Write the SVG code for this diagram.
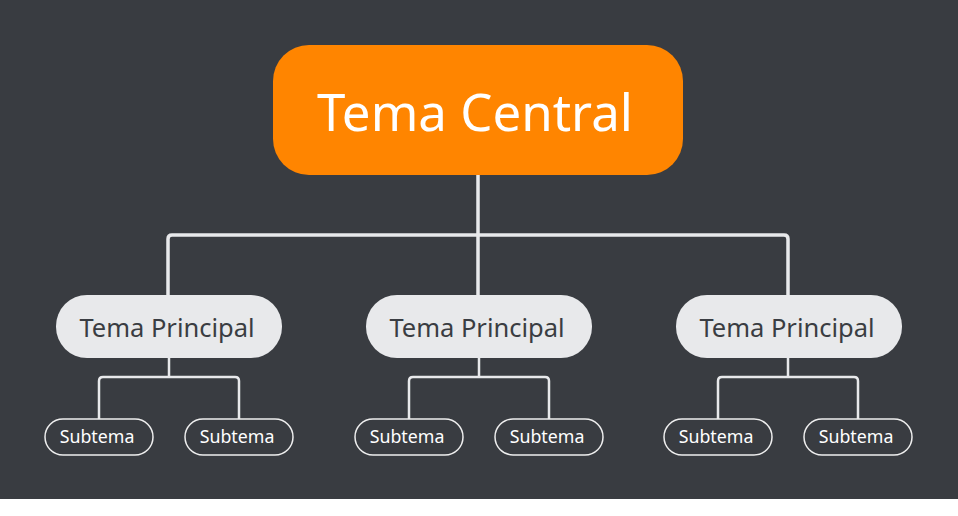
<svg xmlns="http://www.w3.org/2000/svg" width="958" height="516" viewBox="0 0 958 516">
<style>
.bg{fill:#393c41}
.main rect{fill:#e8e9eb}
.main text{fill:#3a3d42;font-family:"Noto Sans","Open Sans",sans-serif;font-size:25.5px;text-anchor:middle}
.sub rect{fill:#393c41;stroke:#eeeeee;stroke-width:1.5}
.sub text{fill:#ffffff;font-family:"Noto Sans","Open Sans",sans-serif;font-size:17.8px;text-anchor:middle}
.conn path{fill:none;stroke:#e8e9eb;stroke-linejoin:round}
.c1{stroke-width:3.5}
.c2{stroke-width:2.5}
</style>
<rect x="0" y="0" width="958" height="516" fill="#ffffff"/>
<rect class="bg" x="0" y="0" width="958" height="499"/>
<g id="connectors" class="conn">
<path class="c1" d="M478 175 V235 M478 296 V235 M168 296 V239 Q168 235 172 235 H784 Q788 235 788 239 V296"/>
<path class="c2" d="M169 358 V377 M99 419 V381 Q99 377 103 377 H235 Q239 377 239 381 V419"/>
<path class="c2" d="M479 358 V377 M409 419 V381 Q409 377 413 377 H545 Q549 377 549 381 V419"/>
<path class="c2" d="M788 358 V377 M718 419 V381 Q718 377 722 377 H854 Q858 377 858 381 V419"/>
</g>
<g id="central">
<rect x="273" y="45" width="410" height="130" rx="36" fill="#ff8500"/>
<text x="475" y="131" fill="#ffffff" font-family="Noto Sans, Open Sans, sans-serif" font-size="51" text-anchor="middle">Tema Central</text>
</g>
<g id="main1" class="main"><rect x="56" y="295" width="226" height="63" rx="31"/><text x="167" y="337">Tema Principal</text></g>
<g id="main2" class="main"><rect x="366" y="295" width="226" height="63" rx="31"/><text x="477" y="337">Tema Principal</text></g>
<g id="main3" class="main"><rect x="676" y="295" width="226" height="63" rx="31"/><text x="787" y="337">Tema Principal</text></g>
<g id="sub1" class="sub"><rect x="45" y="419" width="108" height="36" rx="18"/><text x="97" y="443">Subtema</text></g>
<g id="sub2" class="sub"><rect x="185" y="419" width="108" height="36" rx="18"/><text x="237" y="443">Subtema</text></g>
<g id="sub3" class="sub"><rect x="355" y="419" width="108" height="36" rx="18"/><text x="407" y="443">Subtema</text></g>
<g id="sub4" class="sub"><rect x="495" y="419" width="108" height="36" rx="18"/><text x="547" y="443">Subtema</text></g>
<g id="sub5" class="sub"><rect x="664" y="419" width="108" height="36" rx="18"/><text x="716" y="443">Subtema</text></g>
<g id="sub6" class="sub"><rect x="804" y="419" width="108" height="36" rx="18"/><text x="856" y="443">Subtema</text></g>
</svg>
